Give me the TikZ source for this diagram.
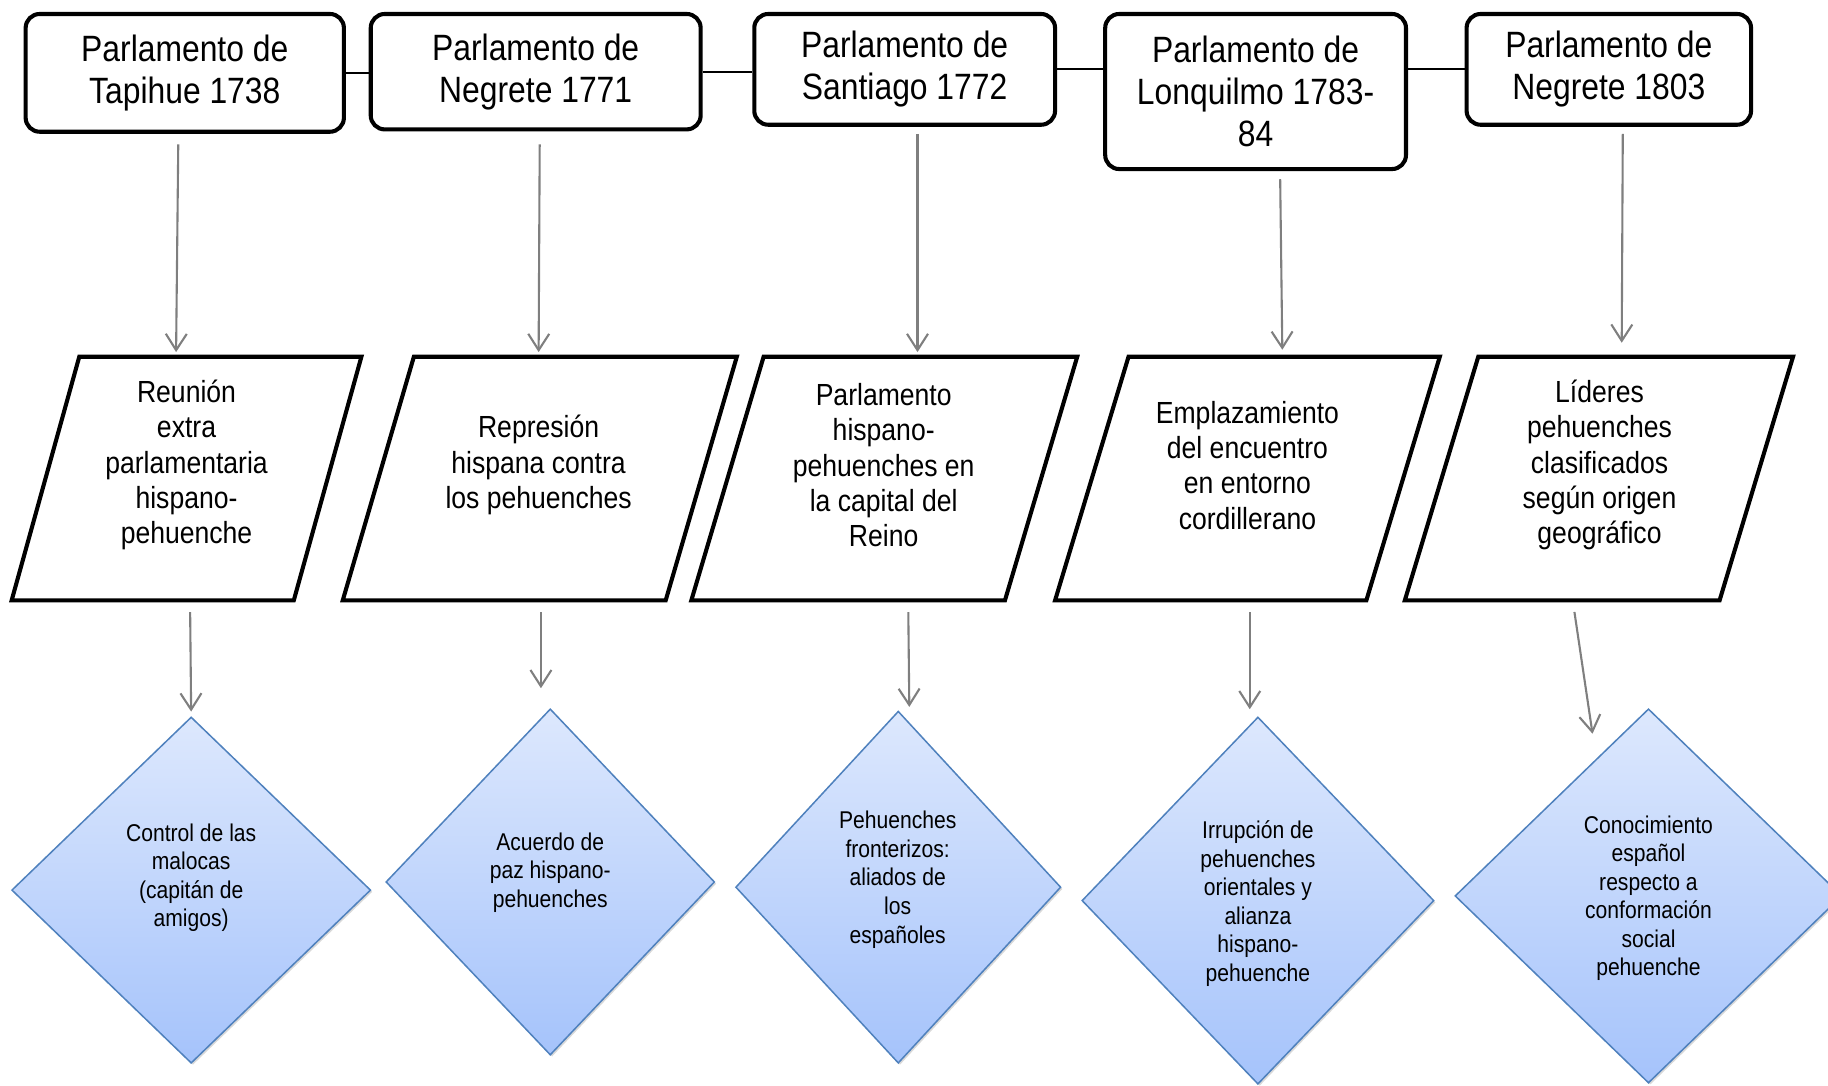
\documentclass[tikz,border=0pt]{standalone}
\usepackage{fontspec}
\setmainfont{Liberation Sans}[FakeStretch=0.87]
\usetikzlibrary{arrows.meta,shapes.geometric,shadows,positioning}
\definecolor{gris}{HTML}{7F7F7F}
\definecolor{rombotop}{HTML}{DDE8FD}
\definecolor{rombobot}{HTML}{A5C3FB}
\definecolor{rombobor}{HTML}{4F81BD}

\begin{document}
\begin{tikzpicture}[x=1pt,y=-1pt,align=center]
\tikzstyle{parlamento}=[draw=black,line width=3.5pt,rounded corners=12pt,inner sep=0pt,font=\fontsize{31.4}{36}\selectfont]
\tikzstyle{enlace}=[draw=black,line width=1.7pt]
\tikzstyle{caja}=[inner sep=0pt,outer sep=0pt]
\tikzstyle{paralelo}=[draw=black,line width=3.5pt]
\tikzstyle{textopar}=[inner sep=0pt,font=\fontsize{26.2}{30.3}\selectfont]
\tikzstyle{rombo}=[diamond,draw=rombobor,line width=1.3pt,top color=rombotop,bottom color=rombobot,inner sep=0pt,drop shadow={shadow xshift=1.5pt,shadow yshift=-1.5pt,opacity=0.3}]
\tikzstyle{textorombo}=[inner sep=0pt,align=center,font=\fontsize{20.8}{24.5}\selectfont]
\tikzstyle{flecha}=[draw=gris,line width=1.8pt,-{Straight Barb[length=14pt,width=18pt]}]

\useasboundingbox (0,0) rectangle (1568,931);

\node[parlamento,minimum width=273pt,minimum height=101pt] (t1) at (158.5,62.5) {Parlamento de\\Tapihue 1738};
\node[parlamento,minimum width=283pt,minimum height=99pt] (t2) at (459.5,61.5) {Parlamento de\\Negrete 1771};
\node[parlamento,minimum width=258pt,minimum height=95pt] (t3) at (776,59.5) {Parlamento de\\Santiago 1772};
\node[parlamento,minimum width=258pt,minimum height=133pt] (t4) at (1077,78.5) {Parlamento de\\Lonquilmo 1783-\\84};
\node[parlamento,minimum width=244pt,minimum height=95pt] (t5) at (1380,59.5) {Parlamento de\\Negrete 1803};

\draw[enlace] (t1.east) -- (t1.east -| t2.west);
\draw[enlace] (t2.east) -- (t2.east -| t3.west);
\draw[enlace] (t3.east) -- (t3.east -| t4.west);
\draw[enlace] (t5.west -| t4.east) -- (t5.west);

\node[caja,minimum width=300pt,minimum height=209pt] (pb1) at (160,410.5) {};
\node[caja,minimum width=338pt,minimum height=209pt] (pb2) at (463,410.5) {};
\node[caja,minimum width=331pt,minimum height=209pt] (pb3) at (758.5,410.5) {};
\node[caja,minimum width=330pt,minimum height=209pt] (pb4) at (1070,410.5) {};
\node[caja,minimum width=333pt,minimum height=209pt] (pb5) at (1371.5,410.5) {};
\foreach \n/\s in {pb1/58,pb2/61,pb3/62,pb4/63,pb5/63}
  \draw[paralelo] ([xshift=\s pt]\n.north west) -- (\n.north east) -- ([xshift=-\s pt]\n.south east) -- (\n.south west) -- cycle;

\node[textopar] (p1) at (160,399) {Reunión\\extra\\parlamentaria\\hispano-\\pehuenche};
\node[textopar] (p2) at (462,399) {Represión\\hispana contra\\los pehuenches};
\node[textopar] (p3) at (758,399) {Parlamento\\hispano-\\pehuenches en\\la capital del\\Reino};
\node[textopar] (p4) at (1070,399) {Emplazamiento\\del encuentro\\en entorno\\cordillerano};
\node[textopar] (p5) at (1372,399) {Líderes\\pehuenches\\clasificados\\según origen\\geográfico};

\node[rombo,minimum width=308pt,minimum height=297pt] (d1) at (164,763.5) {};
\node[rombo,minimum width=282pt,minimum height=297pt] (d2) at (472,756.5) {};
\node[rombo,minimum width=279pt,minimum height=302pt] (d3) at (770.5,761) {};
\node[rombo,minimum width=302pt,minimum height=315pt] (d4) at (1079,772.5) {};
\node[rombo,minimum width=332pt,minimum height=321pt] (d5) at (1414,768.5) {};

\node[textorombo] (r1) at (164,753) {Control de las\\malocas\\(capitán de\\amigos)};
\node[textorombo] (r2) at (472,748.5) {Acuerdo de\\paz hispano-\\pehuenches};
\node[textorombo] (r3) at (770,754.5) {Pehuenches\\fronterizos:\\aliados de\\los\\españoles};
\node[textorombo] (r4) at (1079,775) {Irrupción de\\pehuenches\\orientales y\\alianza\\hispano-\\pehuenche};
\node[textorombo] (r5) at (1414,770.5) {Conocimiento\\español\\respecto a\\conformación\\social\\pehuenche};

\draw[flecha,shorten <=9pt,shorten >=4pt] ([xshift=-5.5pt]t1.south) -- ([xshift=-9pt]pb1.north);
\draw[flecha,shorten <=11pt,shorten >=4pt] ([xshift=3.5pt]t2.south) -- ([xshift=-1pt]pb2.north);
\draw[flecha,shorten <=6pt,shorten >=4pt] ([xshift=11pt]t3.south) -- ([xshift=28.5pt]pb3.north);
\draw[flecha,shorten <=7pt,shorten >=6pt] ([xshift=21pt]t4.south) -- ([xshift=30pt]pb4.north);
\draw[flecha,shorten <=6pt,shorten >=12pt] ([xshift=12pt]t5.south) -- ([xshift=19.5pt]pb5.north);

\draw[flecha,shorten <=10pt,shorten >=4pt] ([xshift=3pt]pb1.south) -- (d1.north);
\draw[flecha,shorten <=10pt,shorten >=17pt] ([xshift=1pt]pb2.south) -- ([xshift=-8pt]d2.north);
\draw[flecha,shorten <=10pt,shorten >=3pt] ([xshift=20.5pt]pb3.south) -- ([xshift=9.5pt]d3.north);
\draw[flecha,shorten <=10pt,shorten >=6pt] ([xshift=2pt]pb4.south) -- ([xshift=-7pt]d4.north);
\draw[flecha,shorten <=10pt] ([xshift=-22.5pt]pb5.south) -- ([xshift=-48pt,yshift=-22pt]d5.north);
\end{tikzpicture}
\end{document}
